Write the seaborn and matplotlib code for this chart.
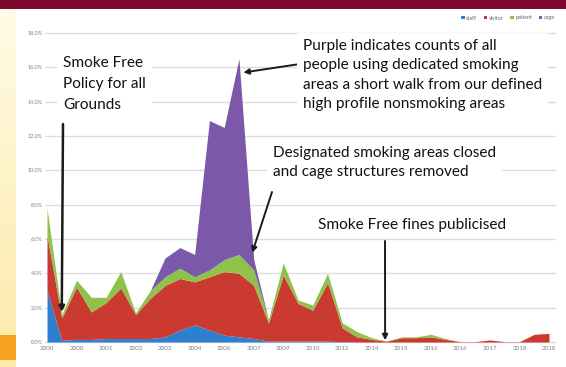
import numpy as np
import matplotlib
matplotlib.use("Agg")
import matplotlib.pyplot as plt
import seaborn as sns
from matplotlib.patches import Rectangle, Patch
from matplotlib.colors import LinearSegmentedColormap

# ---------------- data ----------------
tick_labels = ["2000", "2000", "2001", "2002", "2003", "2004", "2006", "2007", "2009",
               "2010", "2012", "2014", "2015", "2016", "2016", "2017", "2018", "2018"]
series_names = ["staff", "visitor", "patient", "cage"]
staff = [3.0, 0.1, 0.15, 0.15, 0.2, 0.2, 0.2, 0.2, 0.3, 0.7, 1.0, 0.7, 0.4, 0.3, 0.2,
         0.05, 0.05, 0.05, 0.05, 0.05, 0.02, 0.0, 0.0, 0.0, 0.0, 0.0, 0.0, 0.0, 0.0,
         0.0, 0.0, 0.0, 0.0, 0.0, 0.0]
visitor = [3.2, 1.3, 3.05, 1.6, 2.1, 2.95, 1.4, 2.35, 3.0, 3.0, 2.5, 3.1, 3.7, 3.7, 3.1,
           1.05, 3.85, 2.2, 1.8, 3.4, 0.8, 0.3, 0.15, 0.05, 0.25, 0.25, 0.3, 0.15, 0.02,
           0.02, 0.12, 0.02, 0.02, 0.45, 0.5]
patient = [1.6, 0.2, 0.4, 0.85, 0.3, 0.95, 0.1, 0.45, 0.5, 0.6, 0.3, 0.4, 0.7, 1.1, 0.9,
           0.2, 0.7, 0.2, 0.3, 0.55, 0.3, 0.3, 0.1, 0.0, 0.05, 0.05, 0.15, 0.05, 0.0,
           0.0, 0.0, 0.0, 0.0, 0.0, 0.0]
cage = [0.0, 0.0, 0.0, 0.0, 0.0, 0.0, 0.0, 0.0, 1.1, 1.2, 1.3, 8.7, 7.7, 11.4, 0.6,
        0.0, 0.0, 0.0, 0.0, 0.0, 0.0, 0.0, 0.0, 0.0, 0.0, 0.0, 0.0, 0.0, 0.0,
        0.0, 0.0, 0.0, 0.0, 0.0, 0.0]
colors = ["#2f7fd0", "#cb3a31", "#8ec24b", "#7b58aa"]

# ---------------- style ----------------
sns.set_theme(style="white")
plt.rcParams['font.family'] = ['Lato', 'DejaVu Sans']

W, H = 566, 367
fig = plt.figure(figsize=(W / 100, H / 100), dpi=100)
fig.patch.set_facecolor("white")


def fx(x):
    return x / W


def fy(y):
    return 1 - y / H


# decorations: maroon top bar and left gradient strip
fig.patches.append(Rectangle((0, fy(9)), 1, 9 / H, transform=fig.transFigure,
                             facecolor="#7c0a2c", edgecolor="none", zorder=0))
strip = fig.add_axes([0, 0, fx(16), fy(9)])
grad = np.linspace(0, 1, 256).reshape(-1, 1)
cmap = LinearSegmentedColormap.from_list("g", ["#fffbe6", "#fde9a8"])
strip.imshow(grad, aspect="auto", cmap=cmap, extent=[0, 1, 0, 1], origin="upper")
strip.add_patch(Rectangle((0, 0.02), 1, 0.07, facecolor="#f4a21f", edgecolor="none"))
strip.set_axis_off()

# ---------------- chart ----------------
ax = fig.add_axes([fx(47), fy(342), fx(549) - fx(47), fy(33) - fy(342)])
x = np.arange(len(staff))
ax.stackplot(x, staff, visitor, patient, cage, colors=colors, labels=series_names,
             linewidth=0, zorder=2)
ax.set_xlim(0, len(staff) - 1)
ax.set_ylim(0, 18)
yt = np.arange(0, 18.1, 2)
ax.set_yticks(yt)
ax.set_yticklabels([f"{v:.1f}%" for v in yt], fontsize=4, color="#808080")
ax.set_xticks(np.arange(0, len(staff), 2))
ax.set_xticklabels(tick_labels, fontsize=4.5, color="#808080")
for v in yt:
    ax.plot([-0.15, len(staff) - 1 + 0.4], [v, v], color="#dedede", lw=1, zorder=1,
            clip_on=False)
sns.despine(ax=ax, left=True, bottom=True)
ax.tick_params(length=0, pad=3)
ax.set_facecolor("none")

# legend
handles = [Patch(facecolor=c, edgecolor="none", label=n) for c, n in zip(colors, series_names)]
fig.legend(handles=handles, loc="center right", bbox_to_anchor=(fx(560), fy(18)), ncol=4,
           fontsize=4, frameon=False, handlelength=0.6, handleheight=0.6,
           columnspacing=1.2, handletextpad=0.3, labelcolor="#666666")

# ---------------- annotations ----------------
fs = 11.1
box = dict(facecolor="white", edgecolor="none", boxstyle="square,pad=0.4")
fig.text(fx(63), fy(84), "Smoke Free\nPolicy for all\nGrounds", fontsize=fs,
         va="center", ha="left", linespacing=1.68, color="#111111", bbox=box, zorder=3)
fig.text(fx(303), fy(75), "Purple indicates counts of all\npeople using dedicated smoking\n"
         "areas a short walk from our defined\nhigh profile nonsmoking areas",
         fontsize=fs, va="center", ha="left", linespacing=1.46, color="#111111",
         bbox=box, zorder=3)
fig.text(fx(273), fy(162.5), "Designated smoking areas closed\nand cage structures removed",
         fontsize=fs, va="center", ha="left", linespacing=1.48, color="#111111",
         bbox=box, zorder=3)
fig.text(fx(318), fy(225), "Smoke Free fines publicised", fontsize=fs, va="center",
         ha="left", color="#111111", bbox=box, zorder=3)

arrow = dict(arrowstyle="-|>", color="#1b1b1b", lw=1.4, mutation_scale=8, shrinkA=0, shrinkB=0)
ax.annotate("", xy=(1, 1.75), xycoords="data", xytext=(63, H - 124),
            textcoords="figure pixels", arrowprops=dict(arrow, lw=1.8), annotation_clip=False)
ax.annotate("", xy=(13.3, 15.7), xycoords="data", xytext=(300, H - 64),
            textcoords="figure pixels", arrowprops=arrow, annotation_clip=False)
ax.annotate("", xy=(13.9, 5.2), xycoords="data", xytext=(272, H - 192),
            textcoords="figure pixels", arrowprops=arrow, annotation_clip=False)
ax.annotate("", xy=(22.9, 0.1), xycoords="data", xytext=(385, H - 241),
            textcoords="figure pixels", arrowprops=arrow, annotation_clip=False)

fig.savefig("out.png", dpi=100)
